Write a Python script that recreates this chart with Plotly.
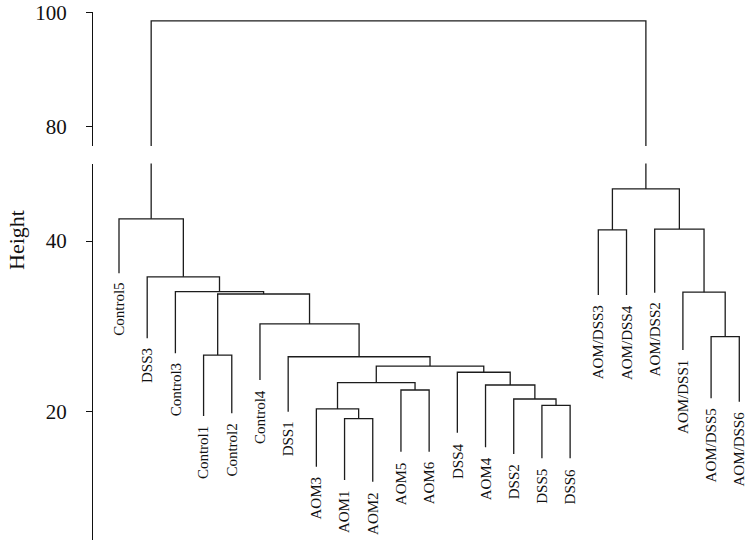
import plotly.graph_objects as go

# ---- data ----
leaf_labels = ["Control5", "DSS3", "Control3", "Control1", "Control2", "Control4", "DSS1",
               "AOM3", "AOM1", "AOM2", "AOM5", "AOM6", "DSS4", "AOM4", "DSS2", "DSS5", "DSS6",
               "AOM/DSS3", "AOM/DSS4", "AOM/DSS2", "AOM/DSS1", "AOM/DSS5", "AOM/DSS6"]
leaf_heights = [36.22, 28.6, 26.84, 19.5, 19.81, 23.71, 20.0,
                13.56, 12.0, 11.8, 15.31, 15.31, 17.54, 15.83, 15.04, 14.54, 14.54,
                33.67, 33.67, 33.94, 27.23, 21.57, 21.17]
# R hclust-style merge table: negative = leaf (1-based), positive = earlier merge (1-based)
merge_left = [-9, -8, -16, -15, -11, -14, 2, -13, 7, -7, -4, -22, -6, 11, -21, -3, -2, -18, -20, -1, 18, 20]
merge_right = [-10, 1, -17, 3, -12, 4, 5, 6, 8, 9, -5, -23, 10, 13, 12, 14, 16, -19, 15, 17, 19, 21]
merge_heights = [19.18, 20.32, 20.75, 21.49, 22.54, 23.13, 23.40, 24.62, 25.35, 26.44, 26.64,
                 28.79, 30.28, 33.79, 34.0, 34.06, 35.8, 41.3, 41.4, 42.6, 46.1, 98.5]
lower_ticks = [20, 40]
upper_ticks = [80, 100]
y_title = "Height"

# ---- build dendrogram segments ----
merge_x = []


def node_pos(k):
    if k < 0:
        return float(-k), leaf_heights[-k - 1]
    return merge_x[k - 1], merge_heights[k - 1]


xs, ys = [], []
for a, b, h in zip(merge_left, merge_right, merge_heights):
    xa, ha = node_pos(a)
    xb, hb = node_pos(b)
    merge_x.append((xa + xb) / 2)
    xs += [xa, xa, xb, xb, None]
    ys += [ha, h, h, hb, None]

line_style = dict(color="#1c1c1c", width=1.3)
fig = go.Figure()
fig.add_trace(go.Scatter(x=xs, y=ys, mode="lines", line=line_style, xaxis="x", yaxis="y",
                         hoverinfo="skip", showlegend=False))
fig.add_trace(go.Scatter(x=xs, y=ys, mode="lines", line=line_style, xaxis="x", yaxis="y2",
                         hoverinfo="skip", showlegend=False))

serif = "Liberation Serif, Times New Roman, serif"
annotations = []
for i, (lab, h) in enumerate(zip(leaf_labels, leaf_heights)):
    annotations.append(dict(x=i + 1, y=h, xref="x", yref="y", text=lab, showarrow=False,
                            textangle=-90, xanchor="center", yanchor="top", yshift=-8,
                            font=dict(family=serif, size=15, color="#111")))
annotations.append(dict(x=-0.116, y=0.5556, xref="paper", yref="paper", text=y_title,
                        showarrow=False, textangle=-90, xanchor="center", yanchor="middle",
                        font=dict(family=serif, size=22, color="#111")))

yax_common = dict(showgrid=False, zeroline=False, showline=True, linecolor="#111", linewidth=1.2,
                  ticks="outside", ticklen=6, tickwidth=1.2, tickcolor="#111",
                  tickfont=dict(family=serif, size=21, color="#111"), anchor="x",
                  ticklabelstandoff=15, automargin=False)

fig.update_layout(
    width=748, height=543,
    margin=dict(l=93, r=0, t=0, b=3, autoexpand=False),
    paper_bgcolor="white", plot_bgcolor="white",
    xaxis=dict(range=[0.078, 23.309], visible=False, showgrid=False, zeroline=False,
               automargin=False),
    yaxis=dict(domain=[0, 0.69722], range=[4.968, 49.08], tickvals=lower_ticks, **yax_common),
    yaxis2=dict(domain=[0.72963, 0.97722], range=[76.61, 100], tickvals=upper_ticks, **yax_common),
    annotations=annotations,
    showlegend=False,
)

fig.write_html("out.html", config={"displayModeBar": False},
               post_script="document.body.style.margin='0';document.body.style.padding='0';")
